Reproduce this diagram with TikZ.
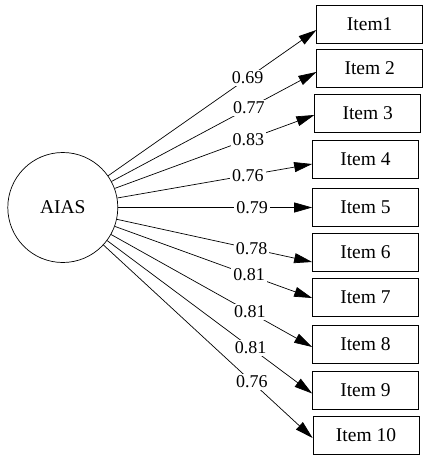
\documentclass[tikz,border=0pt]{standalone}
\usepackage{fontspec}
\setmainfont{Liberation Serif}
\usetikzlibrary{arrows.meta}
\begin{document}
\begin{tikzpicture}[x=1pt,y=-1pt,
        every node/.style={font=\fontsize{19.5}{22}\selectfont},
        item/.style={draw,line width=0.7pt,minimum width=106pt,minimum height=38pt,inner sep=0pt},
        load/.style={line width=0.7pt,-{Triangle[length=18pt,width=10pt]}},
        coef/.style={fill=white,inner sep=2pt,font=\fontsize{18}{20}\selectfont}]
            \useasboundingbox (0,0) rectangle (428,461);
            \node[draw,circle,line width=0.7pt,minimum size=110pt,inner sep=0pt] (A) at (62.8,207.5) {AIAS};
            \node[item] (I1) at (369.7,24) {Item1};
            \node[item] (I2) at (369.7,68.5) {Item 2};
            \node[item] (I3) at (367.7,113) {Item 3};
            \node[item] (I4) at (365.5,159) {Item 4};
            \node[item] (I5) at (365.5,207.5) {Item 5};
            \node[item] (I6) at (365.5,252) {Item 6};
            \node[item] (I7) at (365.5,297.5) {Item 7};
            \node[item] (I8) at (365.5,344.5) {Item 8};
            \node[item] (I9) at (365.5,390.5) {Item 9};
            \node[item] (I10) at (366,435.5) {Item 10};

            \draw[load] (A) -- node[pos=0.67,coef] {0.69} ([yshift=-6pt]I1.west);
            \draw[load] (A) -- node[pos=0.67,coef] {0.77} ([yshift=-3.5pt]I2.west);
            \draw[load] (A) -- node[pos=0.67,coef] {0.83} ([yshift=-2pt]I3.west);
            \draw[load] (A) -- node[pos=0.67,coef] {0.76} ([yshift=-5pt]I4.west);
            \draw[load] (A) -- node[pos=0.69,coef] {0.79} (I5.west);
            \draw[load] (A) -- node[pos=0.69,coef] {0.78} ([yshift=-10pt]I6.west);
            \draw[load] (A) -- node[pos=0.68,coef] {0.81} ([yshift=-0.5pt]I7.west);
            \draw[load] (A) -- node[pos=0.69,coef] {0.81} ([yshift=-2.5pt]I8.west);
            \draw[load] (A) -- node[pos=0.70,coef] {0.81} ([yshift=-3pt]I9.west);
            \draw[load] (A) -- node[pos=0.71,coef] {0.76} ([yshift=-2.5pt]I10.west);
        \end{tikzpicture}
\end{document}
